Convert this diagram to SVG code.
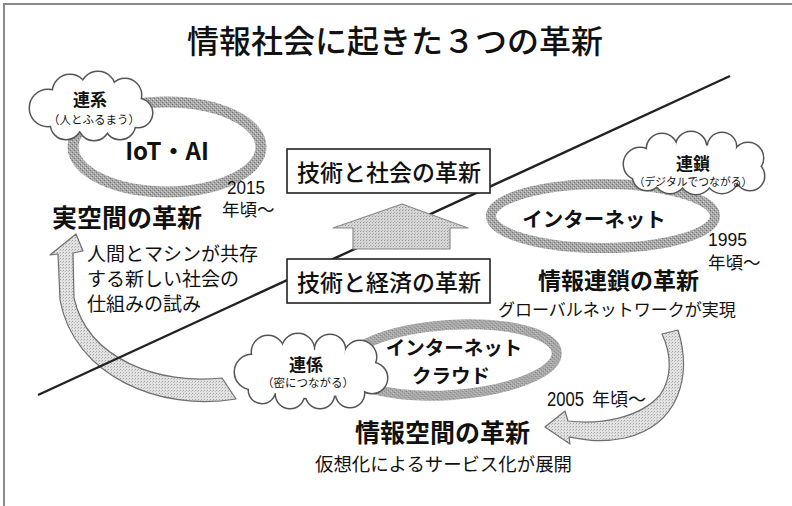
<svg xmlns="http://www.w3.org/2000/svg" xmlns:xlink="http://www.w3.org/1999/xlink" width="792" height="506" viewBox="0 0 792 506">
<defs>
<style>
text{font-family:"Noto Sans CJK JP","Noto Sans",sans-serif;fill:#111;}
.b{font-weight:700;}
.m{font-weight:500;}
.num{font-family:"Liberation Sans","Noto Sans CJK JP",sans-serif;}
.ring{fill:none;stroke:url(#ringtex);}
.arr{fill:url(#arrtex);stroke:#6f6f6f;stroke-width:1.2;stroke-linejoin:round;}
.box{fill:#fff;stroke:#222;stroke-width:1.6;}
</style>
<pattern id="ringtex" width="4" height="4" patternUnits="userSpaceOnUse">
<rect width="4" height="4" fill="#a9a9a9"/>
<rect x="0" y="0" width="1" height="1" fill="#777"/>
<rect x="2" y="2" width="1" height="1" fill="#777"/>
<rect x="1" y="3" width="1" height="1" fill="#cfcfcf"/>
<rect x="3" y="1" width="1" height="1" fill="#cfcfcf"/>
</pattern>
<pattern id="arrtex" width="3" height="3" patternUnits="userSpaceOnUse">
<rect width="3" height="3" fill="#e2e2e2"/>
<rect x="0" y="0" width="1" height="1" fill="#a5a5a5"/>
<rect x="2" y="1" width="1" height="1" fill="#c2c2c2"/>
</pattern>
<pattern id="uptex" width="3" height="3" patternUnits="userSpaceOnUse">
<rect width="3" height="3" fill="#d6d6d6"/>
<rect x="0" y="0" width="1" height="1" fill="#999"/>
<rect x="1" y="2" width="1" height="1" fill="#b5b5b5"/>
</pattern>
<g id="cloud1shape">
<circle cx="48" cy="108" r="18"/>
<circle cx="70" cy="92" r="17"/>
<circle cx="98" cy="89" r="17"/>
<circle cx="125" cy="95" r="16"/>
<circle cx="138" cy="113" r="14"/>
<circle cx="120" cy="124" r="15"/>
<circle cx="94" cy="125" r="15"/>
<circle cx="66" cy="124" r="15"/>
<ellipse cx="92" cy="110" rx="44" ry="22"/>
</g>
<g id="cloud2shape">
<circle cx="640" cy="164" r="16"/>
<circle cx="647" cy="176" r="14"/>
<circle cx="662" cy="149" r="15"/>
<circle cx="691" cy="147" r="15"/>
<circle cx="722" cy="147" r="14"/>
<circle cx="748" cy="158" r="15"/>
<circle cx="750" cy="176" r="14"/>
<circle cx="722" cy="177" r="16"/>
<circle cx="696" cy="178" r="16"/>
<circle cx="670" cy="177" r="16"/>
<ellipse cx="695" cy="166" rx="60" ry="21"/>
</g>
<g id="cloud3shape">
<circle cx="252" cy="372" r="17"/>
<circle cx="268" cy="352" r="16"/>
<circle cx="298" cy="350" r="16"/>
<circle cx="330" cy="350" r="15"/>
<circle cx="360" cy="357" r="16"/>
<circle cx="372" cy="378" r="15"/>
<circle cx="350" cy="393" r="14"/>
<circle cx="320" cy="394" r="14"/>
<circle cx="290" cy="394" r="14"/>
<circle cx="262" cy="390" r="13"/>
<ellipse cx="310" cy="374" rx="58" ry="24"/>
</g>
</defs>

<rect width="792" height="506" fill="#fff"/>
<g id="frame" stroke="#8a8a8a" stroke-width="2" fill="none">
<path d="M4,507 L4,4 L793,4"/>
</g>

<g id="title">
<text x="187" y="53" font-size="32" class="m">情報社会に起きた３つの革新</text>
</g>

<g id="connectors">
<path id="arrow-left" class="arr" d="M236,399 C160,412 74,376 60,300 L58,254 L50,255 L76,234 L83,251 L73,253 L74,298 C88,360 160,385 222,378 Z"/>
<path id="arrow-right" class="arr" d="M662,334 L678,330 C692,375 680,425 625,438 C600,443 585,440 569,437 L570,444 L545,427 L565,411 L568,421 C600,425 640,418 660,395 C672,378 672,355 662,334 Z"/>
</g>

<g id="divider">
<line x1="38" y1="395" x2="730" y2="76" stroke="#222" stroke-width="2.4"/>
</g>

<g id="box-society">
<rect class="box" x="287" y="149" width="203" height="44"/>
<text x="389" y="181" font-size="23" text-anchor="middle" class="m">技術と社会の革新</text>
</g>
<g id="up-arrow">
<path d="M402,204 L468,228 L450,228 L450,249 L353,249 L353,228 L333,228 Z" fill="url(#uptex)" stroke="#8a8a8a" stroke-width="1.2" stroke-linejoin="round"/>
</g>
<g id="box-economy">
<rect class="box" x="287" y="259" width="203" height="44"/>
<text x="389" y="291" font-size="23" text-anchor="middle" class="m">技術と経済の革新</text>
</g>

<g id="node-iot">
<ellipse class="ring" cx="167" cy="147" rx="94" ry="45" stroke-width="11"/>
<use xlink:href="#cloud1shape" fill="#fff" stroke="#555" stroke-width="3"/>
<use xlink:href="#cloud1shape" fill="#fff" stroke="none"/>
<text x="90" y="106" font-size="17" text-anchor="middle" class="b">連系</text>
<text x="94" y="124" font-size="11.5" text-anchor="middle">（人とふるまう）</text>
<text x="167" y="160" font-size="24" text-anchor="middle" class="b">IoT・AI</text>
<text x="227" y="194" font-size="18.5" class="num" textLength="38" lengthAdjust="spacingAndGlyphs">2015</text>
<text x="222" y="216" font-size="17.5">年頃～</text>
<text x="52" y="227" font-size="25" class="b">実空間の革新</text>
<text x="87" y="261" font-size="19">人間とマシンが共存</text>
<text x="87" y="286" font-size="19">する新しい社会の</text>
<text x="87" y="311" font-size="19">仕組みの試み</text>
</g>

<g id="node-internet">
<ellipse class="ring" cx="603" cy="216" rx="112" ry="32" stroke-width="10"/>
<use xlink:href="#cloud2shape" fill="#fff" stroke="#555" stroke-width="3"/>
<use xlink:href="#cloud2shape" fill="#fff" stroke="none"/>
<text x="693" y="170" font-size="17" text-anchor="middle" class="b">連鎖</text>
<text x="693" y="186" font-size="10.8" text-anchor="middle">（デジタルでつながる）</text>
<text x="594" y="227" font-size="20.5" text-anchor="middle" class="b">インターネット</text>
<text x="708" y="246" font-size="19" class="num" textLength="39" lengthAdjust="spacingAndGlyphs">1995</text>
<text x="708" y="269" font-size="17.5">年頃～</text>
<text x="538" y="289" font-size="23" class="b">情報連鎖の革新</text>
<text x="498" y="316" font-size="17">グローバルネットワークが実現</text>
</g>

<g id="node-cloud">
<ellipse class="ring" cx="450" cy="360" rx="107" ry="35" stroke-width="10" transform="rotate(-4 450 360)"/>
<use xlink:href="#cloud3shape" fill="#fff" stroke="#555" stroke-width="3"/>
<use xlink:href="#cloud3shape" fill="#fff" stroke="none"/>
<text x="306" y="371" font-size="17" text-anchor="middle" class="b">連係</text>
<text x="308" y="387" font-size="11.5" text-anchor="middle">（密につながる）</text>
<text x="454" y="355" font-size="19.5" text-anchor="middle" class="b">インターネット</text>
<text x="451" y="383" font-size="19.5" text-anchor="middle" class="b">クラウド</text>
<text x="547" y="406" font-size="20" class="num" textLength="37" lengthAdjust="spacingAndGlyphs">2005</text>
<text x="592" y="406" font-size="18">年頃～</text>
<text x="355" y="442" font-size="25" class="b">情報空間の革新</text>
<text x="315" y="471" font-size="18.4">仮想化によるサービス化が展開</text>
</g>
</svg>
